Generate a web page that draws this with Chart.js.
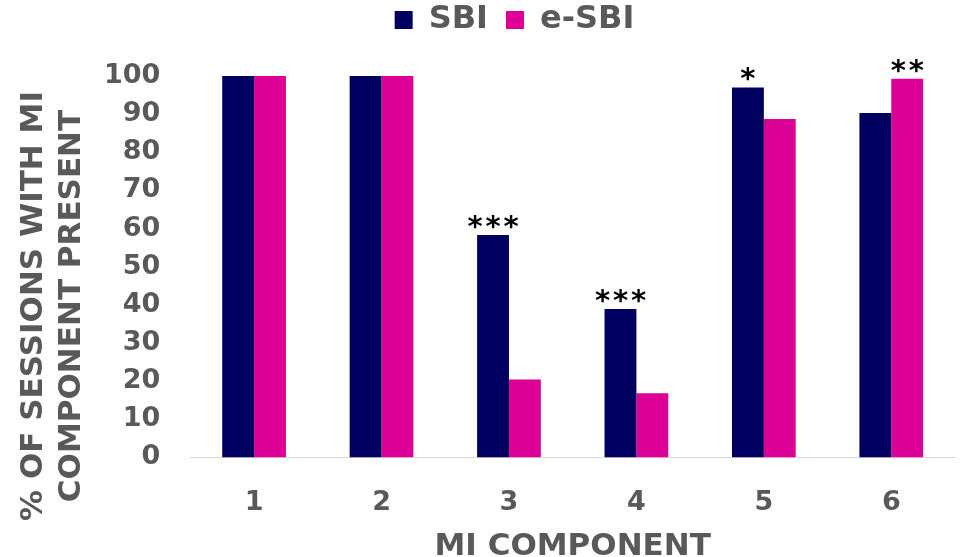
<!DOCTYPE html>
<html lang="en">
<head>
    <meta charset="UTF-8">
    <title>MI components</title>
    <script src="https://cdn.jsdelivr.net/npm/chart.js@4/dist/chart.umd.min.js"></script>
    <style>
        body { margin: 0; background: #fff; }
        .wrap { width: 960px; height: 557px; }
    </style>
</head>
<body>
    <div class="wrap"><canvas id="miChart" width="960" height="557"></canvas></div>
    <script>
        const components = ['1', '2', '3', '4', '5', '6'];
        const sbi = [100, 100, 58.3, 38.9, 97.0, 90.3];
        const esbi = [100, 100, 20.4, 16.8, 88.7, 99.3];
        const sbiStars = ['', '', '***', '***', '*', ''];
        const esbiStars = ['', '', '', '', '', '**'];
        const yTitle = ['% OF SESSIONS WITH MI', 'COMPONENT PRESENT'];

        const grey = '#595959';
        const font = "'DejaVu Sans', Verdana, sans-serif";

        // draws the significance asterisks above bars
        const starPlugin = {
            id: 'stars',
            afterDatasetsDraw(chart) {
                const ctx = chart.ctx;
                const marks = [sbiStars, esbiStars];
                ctx.save();
                ctx.fillStyle = '#000';
                ctx.font = 'bold 29px ' + font;
                ctx.textAlign = 'center';
                ctx.textBaseline = 'alphabetic';
                marks.forEach(function (list, di) {
                    const meta = chart.getDatasetMeta(di);
                    list.forEach(function (s, i) {
                        if (!s) return;
                        const bar = meta.data[i];
                        const n = s.length;
                        for (let k = 0; k < n; k++) {
                            const x = bar.x + (k - (n - 1) / 2) * 18;
                            ctx.fillText('*', x, bar.y + 1);
                        }
                    });
                });
                ctx.restore();
            }
        };

        // y title sits lower than the plot centre in the original, so draw it by hand
        const yTitlePlugin = {
            id: 'ytitle',
            afterDraw(chart) {
                const ctx = chart.ctx;
                ctx.save();
                ctx.translate(0, 306);
                ctx.rotate(-Math.PI / 2);
                ctx.fillStyle = grey;
                ctx.font = 'bold 31px ' + font;
                ctx.textAlign = 'center';
                ctx.textBaseline = 'middle';
                ctx.fillText(yTitle[0], 0, 34);
                ctx.fillText(yTitle[1], 0, 72);
                ctx.restore();
            }
        };

        // extra gap under the legend
        const legendGap = {
            id: 'legendGap',
            beforeInit(chart) {
                const fit = chart.legend.fit;
                chart.legend.fit = function () {
                    fit.bind(chart.legend)();
                    this.height += 30;
                };
            }
        };

        new Chart(document.getElementById('miChart'), {
            type: 'bar',
            data: {
                labels: components,
                datasets: [
                    { label: 'SBI', data: sbi, backgroundColor: '#000060', borderWidth: 0 },
                    { label: 'e-SBI', data: esbi, backgroundColor: '#DC0096', borderWidth: 0 }
                ]
            },
            options: {
                responsive: false,
                animation: false,
                layout: { padding: { left: 74, right: 5, top: -14, bottom: 0 } },
                datasets: { bar: { categoryPercentage: 0.5, barPercentage: 1 } },
                scales: {
                    x: {
                        grid: { display: false, drawTicks: false },
                        border: { color: '#d9d9d9', width: 1 },
                        ticks: { color: grey, font: { family: font, size: 27, weight: 'bold' }, padding: 29 },
                        title: { display: true, text: 'MI COMPONENT', color: grey, font: { family: font, size: 31, weight: 'bold' }, padding: { top: -19, bottom: -9 } }
                    },
                    y: {
                        min: 0,
                        max: 100,
                        ticks: { stepSize: 10, color: grey, font: { family: font, size: 27, weight: 'bold' }, padding: 30 },
                        grid: { display: false, drawTicks: false },
                        border: { display: false }
                    }
                },
                plugins: {
                    legend: {
                        position: 'top',
                        labels: {
                            color: grey,
                            font: { family: font, size: 32, weight: 'bold' },
                            boxWidth: 18,
                            boxHeight: 18,
                            padding: 18
                        }
                    },
                    tooltip: { enabled: false }
                }
            },
            plugins: [starPlugin, yTitlePlugin, legendGap]
        });
    </script>
</body>
</html>
